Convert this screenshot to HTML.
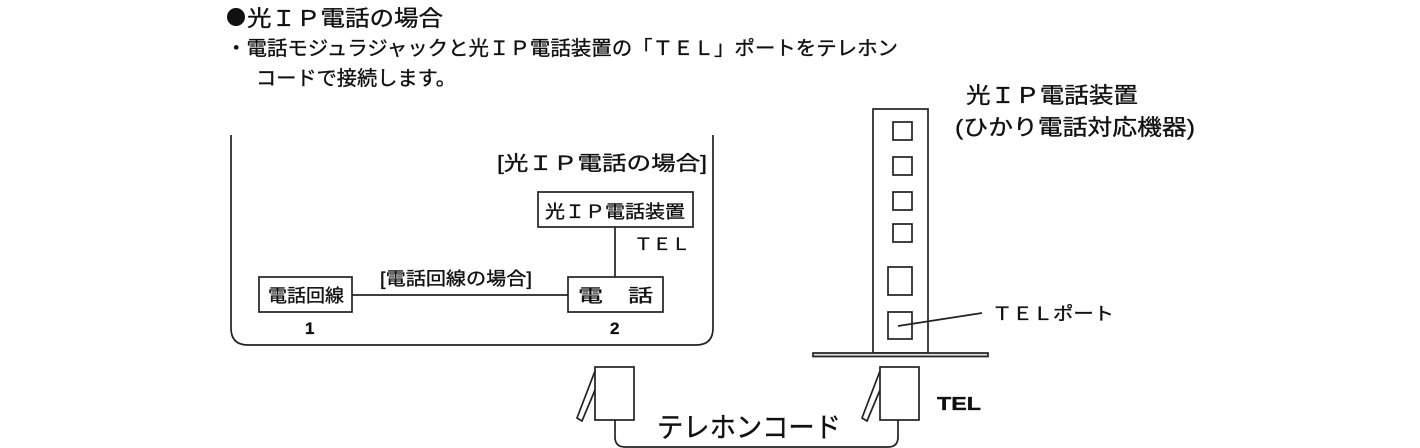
<!DOCTYPE html>
<html><head><meta charset="utf-8"><style>
html,body{margin:0;padding:0;background:#fff;}
svg{display:block;}
text{font-family:"Liberation Sans","Noto Sans CJK JP",sans-serif;fill:#111;stroke:#111;stroke-width:0.35;}
</style></head><body>
<svg width="1420" height="448" viewBox="0 0 1420 448" xmlns="http://www.w3.org/2000/svg">
<g fill="none" stroke="#222" stroke-width="1.7">
<path d="M231 135 V328 Q231 345 248 345 H696 Q713 345 713 328 V135"/>
<rect x="259" y="277" width="93" height="35"/>
<rect x="568" y="277" width="95" height="35"/>
<rect x="538" y="192" width="155" height="35"/>
<line x1="615" y1="227" x2="615" y2="277"/>
<line x1="352" y1="295" x2="568" y2="295"/>
<rect x="873" y="109" width="55" height="244"/>
<rect x="893" y="122" width="19" height="18"/>
<rect x="893" y="157" width="19" height="18"/>
<rect x="893" y="192" width="19" height="18"/>
<rect x="893" y="224" width="19" height="18"/>
<rect x="888" y="267" width="24" height="28"/>
<rect x="888" y="312" width="24" height="27"/>
<line x1="898" y1="326" x2="982" y2="313"/>
<rect x="813" y="353" width="175" height="3.5" fill="#ddd"/>
<rect x="595" y="367" width="39" height="53"/>
<path d="M595 371 L577 418 L582 421 L595 390"/>
<rect x="880" y="367" width="39" height="53"/>
<path d="M880 371 L862 418 L867 421 L880 390"/>
<path d="M615 420 V437 Q615 447 625 447 H888 Q898 447 898 437 V420"/>
</g>
<circle cx="236" cy="17" r="9" fill="#111"/>
<text x="247" y="26" font-size="22" textLength="196" lengthAdjust="spacingAndGlyphs">光ＩＰ電話の場合</text>
<text x="226" y="55" font-size="20" textLength="672" lengthAdjust="spacingAndGlyphs">・電話モジュラジャックと光ＩＰ電話装置の「ＴＥＬ」ポートをテレホン</text>
<text x="256" y="85" font-size="20" textLength="200" lengthAdjust="spacingAndGlyphs">コードで接続します。</text>
<text x="497" y="170" font-size="20" textLength="210" lengthAdjust="spacingAndGlyphs">[光ＩＰ電話の場合]</text>
<text x="545" y="218" font-size="18" textLength="140" lengthAdjust="spacingAndGlyphs">光ＩＰ電話装置</text>
<text x="634" y="250" font-size="17" textLength="56" lengthAdjust="spacingAndGlyphs">ＴＥＬ</text>
<text x="380" y="285" font-size="18" textLength="152" lengthAdjust="spacingAndGlyphs">[電話回線の場合]</text>
<text x="268" y="302" font-size="18" textLength="76" lengthAdjust="spacingAndGlyphs">電話回線</text>
<text x="578" y="302" font-size="18" textLength="75" lengthAdjust="spacingAndGlyphs">電　話</text>
<text x="305" y="334" font-size="17" font-weight="bold">1</text>
<text x="610" y="334" font-size="17" font-weight="bold">2</text>
<text x="966" y="103" font-size="22" textLength="172" lengthAdjust="spacingAndGlyphs">光ＩＰ電話装置</text>
<text x="955" y="135" font-size="22" textLength="240" lengthAdjust="spacingAndGlyphs">(ひかり電話対応機器)</text>
<text x="992" y="320" font-size="18" textLength="122" lengthAdjust="spacingAndGlyphs">ＴＥＬポート</text>
<text x="937" y="410" font-size="18" font-weight="bold" textLength="44" lengthAdjust="spacingAndGlyphs">TEL</text>
<text x="657" y="437" font-size="28" textLength="184" lengthAdjust="spacingAndGlyphs">テレホンコード</text>
</svg>
</body></html>
